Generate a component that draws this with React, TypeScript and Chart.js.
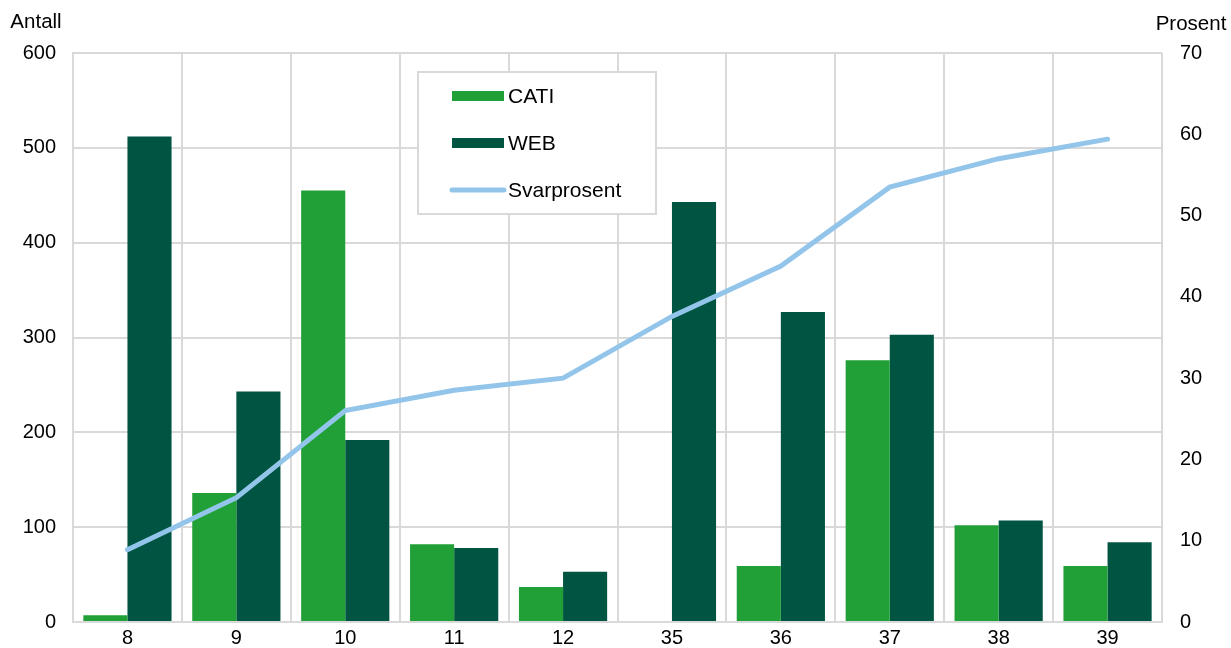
import React, { useEffect, useRef } from "react";
import { Chart, registerables } from "chart.js";

Chart.register(...registerables);

const categories = ["8", "9", "10", "11", "12", "35", "36", "37", "38", "39"];
const catiValues = [7, 136, 455, 82, 37, 0, 59, 276, 102, 59];
const webValues = [512, 243, 192, 78, 53, 443, 327, 303, 107, 84];
const svarprosent = [8.9, 15.3, 26.0, 28.5, 30.0, 37.6, 43.8, 53.5, 57.0, 59.4];
const leftTitle = "Antall";
const rightTitle = "Prosent";

const CATI_COLOR = "#21a038";
const WEB_COLOR = "#005442";
const LINE_COLOR = "#93c5eb";
const GRID_COLOR = "#d9d9d9";
const FONT = "'Liberation Sans', Arial, sans-serif";

const overlayPlugin = {
  id: "overlay",
  afterDraw(chart: any) {
    const ctx = chart.ctx;
    ctx.save();
    ctx.font = `20.5px ${FONT}`;
    ctx.fillStyle = "#000";
    ctx.textBaseline = "middle";
    ctx.textAlign = "center";
    ctx.fillText(leftTitle, 36, 22);
    ctx.fillText(rightTitle, 1191, 24);

    // legend box
    const bx = 418, by = 72, bw = 238, bh = 142;
    ctx.fillStyle = "#fff";
    ctx.fillRect(bx, by, bw, bh);
    ctx.strokeStyle = GRID_COLOR;
    ctx.lineWidth = 2;
    ctx.strokeRect(bx, by, bw, bh);
    ctx.font = `21px ${FONT}`;
    const ds = chart.data.datasets;
    const rows = [96, 143, 190];
    ds.forEach((d: any, i: number) => {
      const y = rows[i];
      if (d.type === "line") {
        ctx.strokeStyle = d.borderColor;
        ctx.lineWidth = 5;
        ctx.lineCap = "round";
        ctx.beginPath();
        ctx.moveTo(452, y);
        ctx.lineTo(504, y);
        ctx.stroke();
      } else {
        ctx.fillStyle = d.backgroundColor;
        ctx.fillRect(452, y - 5, 52, 10);
      }
      ctx.fillStyle = "#000";
      ctx.textAlign = "left";
      ctx.fillText(d.label, 508, y + 1);
    });
    ctx.restore();
  },
};

export default function App() {
  const ref = useRef<HTMLCanvasElement>(null);
  useEffect(() => {
    document.body.style.margin = "0";
    const chart = new Chart(ref.current!, {
      type: "bar",
      data: {
        labels: categories,
        datasets: [
          { type: "bar", label: "CATI", data: catiValues, backgroundColor: CATI_COLOR, yAxisID: "y", order: 1 },
          { type: "bar", label: "WEB", data: webValues, backgroundColor: WEB_COLOR, yAxisID: "y", order: 1 },
          {
            type: "line",
            label: "Svarprosent",
            data: svarprosent,
            borderColor: LINE_COLOR,
            backgroundColor: LINE_COLOR,
            borderWidth: 5,
            pointRadius: 0,
            tension: 0,
            borderCapStyle: "round",
            yAxisID: "y1",
            order: 0,
          } as any,
        ],
      },
      options: {
        animation: false,
        responsive: false,
        maintainAspectRatio: false,
        layout: { padding: { top: 53, left: 0, right: 0, bottom: 0 } },
        datasets: { bar: { categoryPercentage: 0.81, barPercentage: 1.0 } },
        plugins: { legend: { display: false }, tooltip: { enabled: false } },
        scales: {
          x: {
            grid: { offset: true, color: GRID_COLOR, lineWidth: 2, drawTicks: false },
            border: { color: GRID_COLOR, width: 2 },
            ticks: { color: "#000", font: { family: FONT, size: 20 }, padding: 4, maxRotation: 0 },
            afterFit: (s: any) => { s.height = 26; s.paddingLeft = 0; s.paddingRight = 0; },
          },
          y: {
            position: "left",
            min: 0,
            max: 600,
            grid: { color: GRID_COLOR, lineWidth: 2, drawTicks: false },
            border: { color: GRID_COLOR, width: 2 },
            ticks: { stepSize: 100, color: "#000", font: { family: FONT, size: 20 }, padding: 17 },
            afterFit: (s: any) => { s.width = 73; s.paddingTop = 0; s.paddingBottom = 0; },
          },
          y1: {
            position: "right",
            min: 0,
            max: 70,
            grid: { display: false, drawTicks: false },
            border: { display: false },
            ticks: { stepSize: 10, color: "#000", font: { family: FONT, size: 20 }, padding: 18 },
            afterFit: (s: any) => { s.width = 69; s.paddingTop = 0; s.paddingBottom = 0; },
          },
        },
      },
      plugins: [overlayPlugin],
    } as any);
    return () => chart.destroy();
  }, []);
  return (
    <div style={{ width: 1231, height: 648 }}>
      <canvas ref={ref} width={1231} height={648} style={{ display: "block" }} />
    </div>
  );
}
